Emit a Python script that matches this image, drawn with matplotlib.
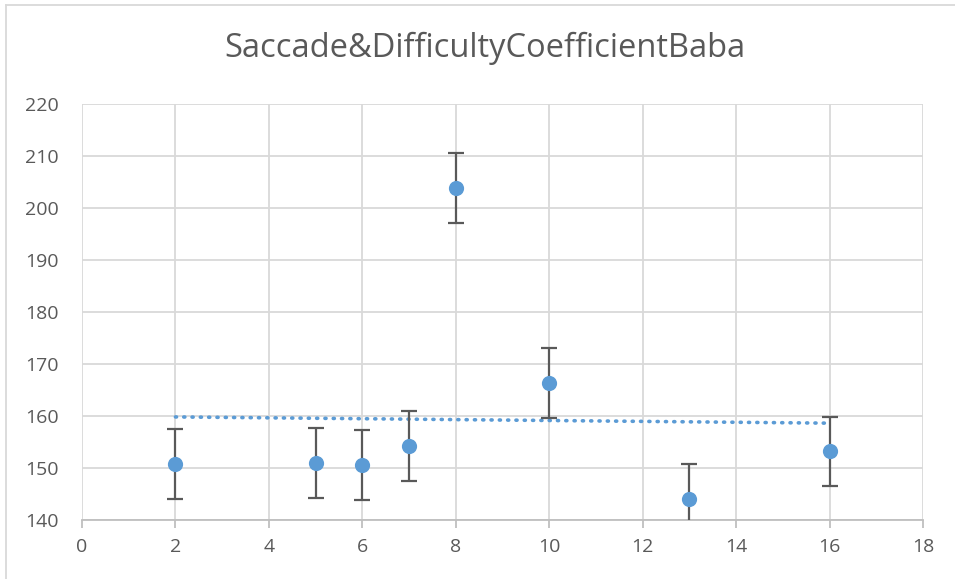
import numpy as np
import matplotlib
matplotlib.use('Agg')
import matplotlib.pyplot as plt
from matplotlib.lines import Line2D

# data
x_vals = [2, 5, 6, 7, 8, 10, 13, 16]
y_vals = [150.8, 151.0, 150.6, 154.2, 203.9, 166.4, 144.1, 153.2]
y_err = [6.7, 6.7, 6.7, 6.7, 6.7, 6.7, 6.7, 6.7]
x_ticks = [0, 2, 4, 6, 8, 10, 12, 14, 16, 18]
y_ticks = [140, 150, 160, 170, 180, 190, 200, 210, 220]
title = "Saccade&DifficultyCoefficientBaba"

plt.rcParams['font.family'] = ['Open Sans', 'DejaVu Sans']

W, H = 955, 579
fig = plt.figure(figsize=(W / 100, H / 100), dpi=100)
ax = fig.add_axes([82 / W, 1 - 520 / H, (923 - 82) / W, (520 - 104) / H])

grid_col = '#d9d9d9'
text_col = '#595959'
blue = '#5b9bd5'

ax.errorbar(x_vals, y_vals, yerr=y_err, fmt='none', ecolor='#595959',
            elinewidth=1.6, capsize=6, capthick=1.6, zorder=3)
ax.scatter(x_vals, y_vals, s=120, color=blue, zorder=4, linewidths=0)

# linear trendline
k, b = np.polyfit(x_vals, y_vals, 1)
tx = np.array([min(x_vals), max(x_vals)])
ax.plot(tx, k * tx + b, color=blue, lw=2.6, ls=(0, (0.3, 2.0)),
        dash_capstyle='round', zorder=2)

ax.set_xlim(0, 18)
ax.set_ylim(140, 220)
ax.set_xticks(x_ticks)
ax.set_yticks(y_ticks)
ax.grid(True, color=grid_col, lw=1.3, zorder=0)
ax.set_axisbelow(True)
for s in ['top', 'right', 'left']:
    ax.spines[s].set_visible(False)
ax.spines['bottom'].set_color('#bfbfbf')
ax.spines['bottom'].set_linewidth(1.3)
ax.tick_params(axis='x', length=6, width=1.3, color='#bfbfbf',
               labelsize=14, labelcolor=text_col, pad=7)
ax.tick_params(axis='y', length=0, labelsize=14, labelcolor=text_col, pad=17)

fig.text(485 / W, 1 - 48 / H, title, ha='center', va='center',
         fontsize=23.5, color=text_col)

# chart border (top and left visible in the crop)
fig.add_artist(Line2D([6 / W, 1], [1 - 5 / H, 1 - 5 / H], color=grid_col,
                      lw=1.3, transform=fig.transFigure))
fig.add_artist(Line2D([6 / W, 6 / W], [0, 1 - 5 / H], color=grid_col,
                      lw=1.3, transform=fig.transFigure))

fig.savefig('out.png', dpi=100)
